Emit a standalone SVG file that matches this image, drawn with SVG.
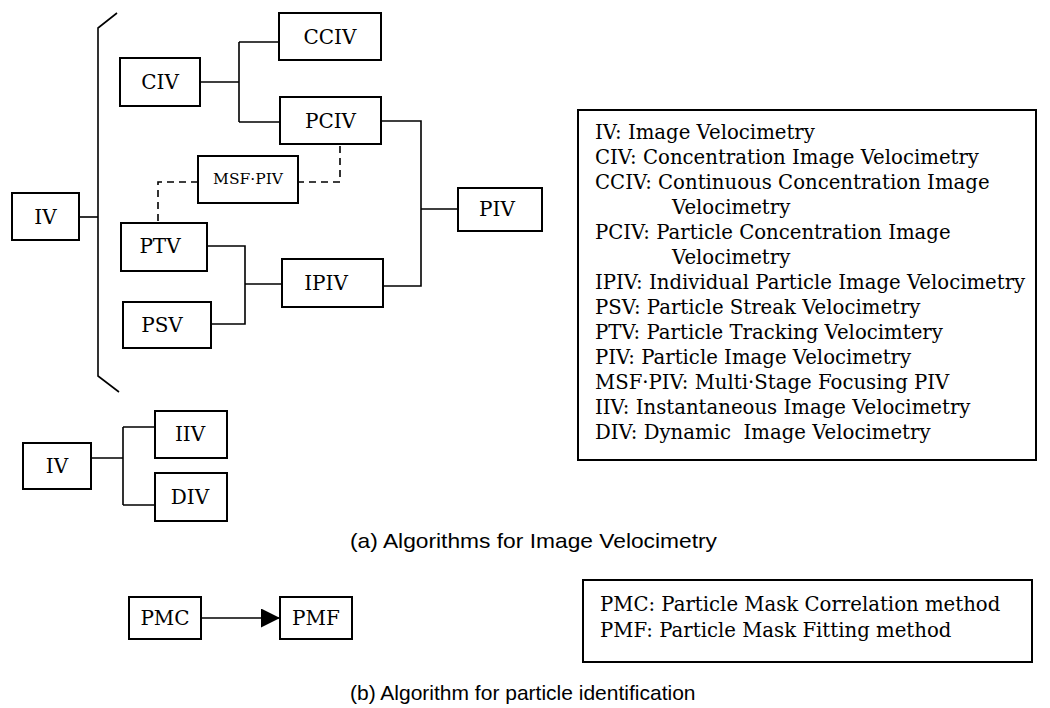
<svg xmlns="http://www.w3.org/2000/svg" width="1050" height="708" viewBox="0 0 1050 708">
<defs>
<style>
.box{fill:#fff;stroke:#000;stroke-width:2}
.lbl{font-family:"DejaVu Serif","Liberation Serif",serif;font-size:20px;fill:#000;text-anchor:middle}
.sml{font-size:15.5px}
.ln{fill:none;stroke:#000;stroke-width:1.6}
.dash{fill:none;stroke:#000;stroke-width:1.6;stroke-dasharray:7 5}
.leg{font-family:"DejaVu Serif","Liberation Serif",serif;font-size:19.7px;fill:#000;white-space:pre}
.cap{font-family:"Liberation Sans",Arial,sans-serif;font-size:21px;fill:#000}
</style>
<marker id="arr2" viewBox="0 0 20 20" refX="20" refY="10" markerWidth="19" markerHeight="19" markerUnits="userSpaceOnUse" orient="auto">
<path d="M0,0 L20,10 L0,20 z" fill="#000"/>
</marker>
</defs>
<rect width="1050" height="708" fill="#fff"/>

<g id="connectors">
<path class="ln" d="M117,13 L98,28 L98,376 L119,392"/>
<path class="ln" d="M79,217 H98"/>
<path class="ln" d="M200,82 H239 M239,42 V122 M239,42 H279 M239,122 H280"/>
<path class="ln" d="M381,121 H421 V286 H383 M421,209 H458"/>
<path class="ln" d="M207,246 H245 V324 H211 M245,284 H282"/>
<path class="dash" d="M340,146 V182 H298"/>
<path class="dash" d="M198,182 H158 V223"/>
<path class="ln" d="M91,458 H123 M123,427 V505 M123,427 H155 M123,505 H155"/>
<path class="ln" d="M201,618 H280" marker-end="url(#arr2)"/>
</g>

<g id="n-iv"><rect class="box" x="12" y="193" width="67" height="47"/><text class="lbl" x="45.5" y="224">IV</text></g>
<g id="n-civ"><rect class="box" x="120" y="58" width="80" height="48"/><text class="lbl" x="160" y="89">CIV</text></g>
<g id="n-cciv"><rect class="box" x="279" y="13" width="102" height="47"/><text class="lbl" x="330" y="44">CCIV</text></g>
<g id="n-pciv"><rect class="box" x="280" y="97" width="101" height="47"/><text class="lbl" x="330.5" y="128">PCIV</text></g>
<g id="n-msf"><rect class="box" x="198" y="156" width="100" height="47"/><text class="lbl sml" x="248" y="184">MSF·PIV</text></g>
<g id="n-ptv"><rect class="box" x="121" y="223" width="86" height="48"/><text class="lbl" x="160" y="253">PTV</text></g>
<g id="n-psv"><rect class="box" x="123" y="302" width="88" height="46"/><text class="lbl" x="162" y="332">PSV</text></g>
<g id="n-ipiv"><rect class="box" x="282" y="259" width="101" height="48"/><text class="lbl" x="326" y="290">IPIV</text></g>
<g id="n-piv"><rect class="box" x="458" y="188" width="84" height="43"/><text class="lbl" x="497" y="216">PIV</text></g>
<g id="n-iv2"><rect class="box" x="23" y="443" width="68" height="46"/><text class="lbl" x="57" y="473">IV</text></g>
<g id="n-iiv"><rect class="box" x="155" y="411" width="72" height="47"/><text class="lbl" x="190" y="441">IIV</text></g>
<g id="n-div"><rect class="box" x="155" y="473" width="72" height="48"/><text class="lbl" x="190" y="504">DIV</text></g>
<g id="n-pmc"><rect class="box" x="129" y="597" width="72" height="42"/><text class="lbl" x="165" y="625">PMC</text></g>
<g id="n-pmf"><rect class="box" x="280" y="597" width="72" height="42"/><text class="lbl" x="316" y="625">PMF</text></g>

<g id="legend-a">
<rect class="box" x="578" y="110" width="458" height="350" stroke-width="1.6"/>
<text class="leg" x="595" y="139">IV: Image Velocimetry</text>
<text class="leg" x="595" y="164">CIV: Concentration Image Velocimetry</text>
<text class="leg" x="595" y="189">CCIV: Continuous Concentration Image</text>
<text class="leg" x="672" y="214">Velocimetry</text>
<text class="leg" x="595" y="239">PCIV: Particle Concentration Image</text>
<text class="leg" x="672" y="264">Velocimetry</text>
<text class="leg" x="595" y="289">IPIV: Individual Particle Image Velocimetry</text>
<text class="leg" x="595" y="314">PSV: Particle Streak Velocimetry</text>
<text class="leg" x="595" y="339">PTV: Particle Tracking Velocimtery</text>
<text class="leg" x="595" y="364">PIV: Particle Image Velocimetry</text>
<text class="leg" x="595" y="389">MSF·PIV: Multi·Stage Focusing PIV</text>
<text class="leg" x="595" y="414">IIV: Instantaneous Image Velocimetry</text>
<text class="leg" x="595" y="439">DIV: Dynamic  Image Velocimetry</text>
</g>

<g id="legend-b">
<rect class="box" x="583" y="580" width="449" height="82" stroke-width="1.6"/>
<text class="leg" x="600" y="611">PMC: Particle Mask Correlation method</text>
<text class="leg" x="600" y="637">PMF: Particle Mask Fitting method</text>
</g>

<text class="cap" x="350" y="548" textLength="367" lengthAdjust="spacingAndGlyphs">(a) Algorithms for Image Velocimetry</text>
<text class="cap" x="350" y="700">(b) Algorithm for particle identification</text>
</svg>
